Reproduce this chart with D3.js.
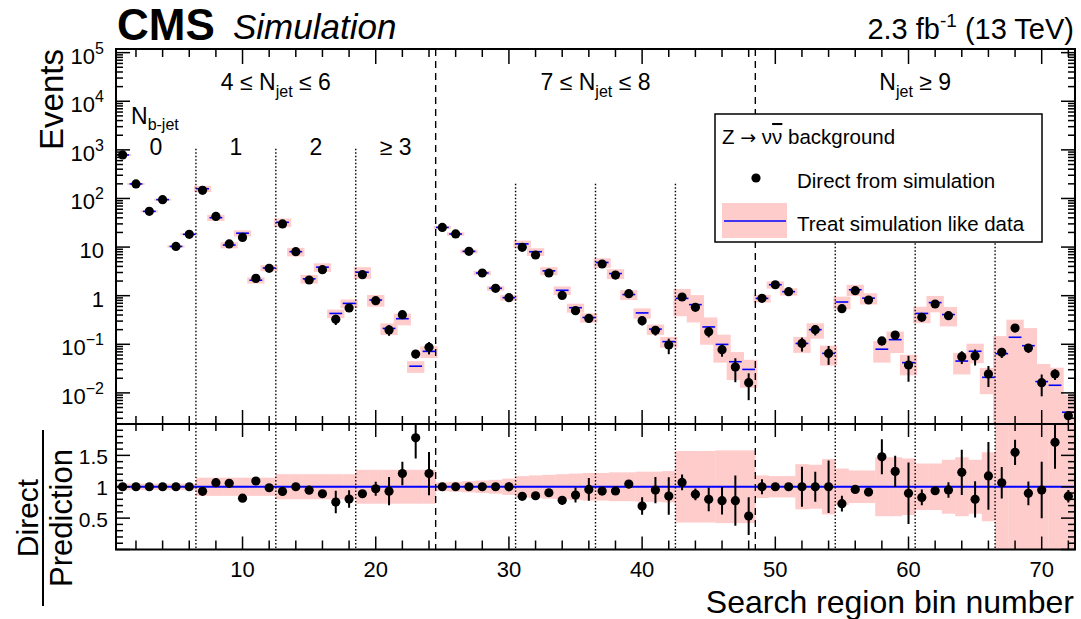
<!DOCTYPE html>
<html><head><meta charset="utf-8">
<script src="https://cdn.jsdelivr.net/npm/d3@7"></script>
<style>body{margin:0;background:#fff} text{font-family:"Liberation Sans",Arial,Helvetica,sans-serif;fill:#000}</style>
</head><body><svg id="c" width="1081" height="619"></svg>
<script>
// ---------------- data ----------------
const bins = d3.range(1, 73);
const direct = [785,199,54.3,94.5,10.3,18.3, 147,42.8,11.6,15.8,2.27,3.65, 29.9,8.04,2.1,3.43,0.326,0.558, 2.7,0.789,0.197,0.407,0.063,0.0865,
  25.4,18.6,8.16,2.93,1.42,0.91, 9.86,6.87,2.93,1.01,0.491,0.341, 4.49,2.66,1.1,0.306,0.194,0.0966, 0.94,0.575,0.182,0.0774,0.0341,0.0162,
  0.881,1.68,1.21,0.104,0.2,0.065, 0.541,1.27,0.815,0.117,0.155,0.0375, 0.358,0.675,0.388,0.0556,0.0574,0.0245, 0.0682,0.216,0.0838,0.0162,0.0245,0.0034];
const pred = [785,199,54.3,94.5,10.3,18.3, 158.6,40.2,11.0,19.3,2.08,3.71, 32.3,8.04,2.22,3.86,0.431,0.694, 3.04,0.815,0.212,0.336,0.0354,0.0715,
  25.4,18.6,8.16,2.93,1.42,0.91, 11.64,8.02,3.24,1.29,0.566,0.356, 4.82,2.85,1.055,0.442,0.205,0.1134, 0.879,0.654,0.2275,0.0995,0.0438,0.0304,
  0.881,1.68,1.21,0.104,0.2,0.065, 0.741,1.326,0.89,0.0792,0.1245,0.0419, 0.431,0.721,0.409,0.0452,0.0718,0.0209, 0.0641,0.1395,0.0936,0.0171,0.01435,0.0040];
const ratioErr = [0.01,0.01,0.01,0.01,0.01,0.01, 0.03,0.03,0.03,0.03,0.04,0.03, 0.03,0.03,0.04,0.04,0.178,0.14, 0.05,0.11,0.225,0.186,0.33,0.345,
  0.02,0.02,0.02,0.03,0.05,0.07, 0.03,0.03,0.04,0.066,0.12,0.18, 0.03,0.04,0.066,0.14,0.21,0.3, 0.125,0.093,0.19,0.22,0.4,0.3,
  0.12,0.05,0.06,0.32,0.24,0.42, 0.125,0.05,0.06,0.28,0.25,0.49, 0.125,0.06,0.125,0.36,0.29,0.54, 0.25,0.2,0.19,0.45,0.42,0.1];
const predRelErr = [0.05,0.05,0.05,0.05,0.05,0.05, 0.145,0.145,0.145,0.145,0.145,0.145, 0.2,0.2,0.2,0.2,0.2,0.2, 0.27,0.27,0.27,0.27,0.27,0.27,
  0.07,0.08,0.09,0.10,0.11,0.13, 0.17,0.18,0.19,0.20,0.21,0.22, 0.22,0.23,0.23,0.24,0.24,0.25, 0.57,0.57,0.57,0.58,0.58,0.58,
  0.18,0.17,0.17,0.36,0.35,0.44, 0.29,0.26,0.26,0.47,0.47,0.45, 0.37,0.37,0.43,0.47,0.43,0.55, 1.3,1.3,1.3,1.3,1.3,1.3];
const ratio = direct.map((d,i)=>d/pred[i]);
const njetGroups = [{lo:0.5,hi:24.5,label:["4 ≤ N","jet"," ≤ 6"]},{lo:24.5,hi:48.5,label:["7 ≤ N","jet"," ≤ 8"]},{lo:48.5,hi:72.5,label:["N","jet"," ≥ 9"]}];
const nbLabels = [{c:3.5,t:"0"},{c:9.5,t:"1"},{c:15.5,t:"2"},{c:21.5,t:"≥ 3"}];
const dottedSeps = [6.5,12.5,18.5,30.5,36.5,42.5,54.5,60.5,66.5];
const dottedTop = [1050,1050,1050,200,200,200,200,200,200];
const dashedSeps = [24.5,48.5];
const xTickLabels = [10,20,30,40,50,60,70];
const yTopDecades = [-2,-1,0,1,2,3,4,5];
const yRatioLabels = [0.5,1,1.5];

// ---------------- layout ----------------
const L=116,R=1075,T=49,M=424,B=549.5;
const svg = d3.select('#c');
const x = d3.scaleLinear().domain([0.5,72.5]).range([L,R]);
const yT = d3.scaleLog().domain([Math.pow(10,-2.64),Math.pow(10,5.075)]).range([M,T]);
const yR = d3.scaleLinear().domain([0,2]).range([B,M]);
const PINK='#ffcccc', BLUE='#0000ff';

const defs = svg.append('defs');
defs.append('clipPath').attr('id','cT').append('rect').attr('x',L).attr('y',T).attr('width',R-L).attr('height',M-T);
defs.append('clipPath').attr('id','cB').append('rect').attr('x',L).attr('y',M).attr('width',R-L).attr('height',B-M);

// ---------- upper panel ----------
const gT = svg.append('g').attr('clip-path','url(#cT)');
gT.selectAll('rect.box').data(bins).join('rect')
  .attr('x',d=>x(d-0.65)).attr('width',x(1.3)-x(0))
  .attr('y',(d,i)=>yT(pred[i]*(1+predRelErr[i])))
  .attr('height',(d,i)=>{const lo=pred[i]*(1-predRelErr[i]);const yb=lo>0?yT(lo):M+10;return yb-yT(pred[i]*(1+predRelErr[i]));})
  .attr('fill',PINK);
gT.selectAll('line.pred').data(bins).join('line')
  .attr('x1',d=>x(d-0.48)).attr('x2',d=>x(d+0.48))
  .attr('y1',(d,i)=>yT(pred[i])).attr('y2',(d,i)=>yT(pred[i]))
  .attr('stroke',BLUE).attr('stroke-width',1.6);
gT.selectAll('line.dot').data(dottedSeps).join('line')
  .attr('x1',d=>x(d)).attr('x2',d=>x(d)).attr('y1',(d,i)=>yT(dottedTop[i])).attr('y2',M)
  .attr('stroke','#000').attr('stroke-width',1.4).attr('stroke-dasharray','1.5,2');
gT.selectAll('line.dash').data(dashedSeps).join('line')
  .attr('x1',d=>x(d)).attr('x2',d=>x(d)).attr('y1',T).attr('y2',M)
  .attr('stroke','#000').attr('stroke-width',1.4).attr('stroke-dasharray','7,5');
gT.selectAll('line.err').data(bins).join('line')
  .attr('x1',d=>x(d)).attr('x2',d=>x(d))
  .attr('y1',(d,i)=>yT(direct[i]+ratioErr[i]*pred[i]))
  .attr('y2',(d,i)=>{const lo=direct[i]-ratioErr[i]*pred[i];return lo>0?yT(lo):M+10;})
  .attr('stroke','#000').attr('stroke-width',2);
gT.selectAll('circle').data(bins).join('circle')
  .attr('cx',d=>x(d)).attr('cy',(d,i)=>yT(direct[i])).attr('r',4.6).attr('fill','#000');

// ---------- lower panel ----------
const gB = svg.append('g').attr('clip-path','url(#cB)');
gB.selectAll('rect').data(bins).join('rect')
  .attr('x',d=>x(d-0.5)).attr('width',x(1)-x(0)+0.3)
  .attr('y',(d,i)=>yR(1+predRelErr[i]))
  .attr('height',(d,i)=>yR(Math.max(-0.1,1-predRelErr[i]))-yR(1+predRelErr[i]))
  .attr('fill',PINK);
gB.append('line').attr('x1',L).attr('x2',R).attr('y1',yR(1)).attr('y2',yR(1)).attr('stroke',BLUE).attr('stroke-width',2);
gB.selectAll('line.dot').data(dottedSeps).join('line')
  .attr('x1',d=>x(d)).attr('x2',d=>x(d)).attr('y1',M).attr('y2',B)
  .attr('stroke','#000').attr('stroke-width',1.4).attr('stroke-dasharray','1.5,2');
gB.selectAll('line.dash').data(dashedSeps).join('line')
  .attr('x1',d=>x(d)).attr('x2',d=>x(d)).attr('y1',M).attr('y2',B)
  .attr('stroke','#000').attr('stroke-width',1.4).attr('stroke-dasharray','7,5');
gB.selectAll('line.err').data(bins).join('line')
  .attr('x1',d=>x(d)).attr('x2',d=>x(d))
  .attr('y1',(d,i)=>yR(ratio[i]+ratioErr[i])).attr('y2',(d,i)=>yR(ratio[i]-ratioErr[i]))
  .attr('stroke','#000').attr('stroke-width',2);
gB.selectAll('circle').data(bins).join('circle')
  .attr('cx',d=>x(d)).attr('cy',(d,i)=>yR(ratio[i])).attr('r',4.6).attr('fill','#000');

// ---------- legend ----------
const lg = svg.append('g');
lg.append('rect').attr('x',715).attr('y',114).attr('width',327).attr('height',128).attr('fill','#fff').attr('stroke','#000').attr('stroke-width',1.5);
const h = lg.append('text').attr('x',722).attr('y',144).attr('font-size',20.5);
h.append('tspan').text('Z ');
h.append('tspan').style('font-family','"DejaVu Sans"').attr('font-size',19).text('→');
h.append('tspan').text(' ν');
h.append('tspan').style('text-decoration','overline').text('ν');
h.append('tspan').text(' background');
lg.append('circle').attr('cx',756).attr('cy',178).attr('r',4.6).attr('fill','#000');
lg.append('text').attr('x',797).attr('y',188).attr('font-size',20.5).text('Direct from simulation');
lg.append('rect').attr('x',722).attr('y',203).attr('width',65).attr('height',35).attr('fill',PINK);
lg.append('line').attr('x1',724).attr('x2',786).attr('y1',221).attr('y2',221).attr('stroke',BLUE).attr('stroke-width',1.6);
lg.append('text').attr('x',797).attr('y',231).attr('font-size',20.5).text('Treat simulation like data');

// ---------- region labels ----------
njetGroups.forEach(g=>{
  const t = svg.append('text').attr('x',x((g.lo+g.hi)/2)).attr('y',90).attr('font-size',23).attr('text-anchor','middle');
  t.append('tspan').text(g.label[0]);
  t.append('tspan').attr('font-size',16).attr('dy',6.5).text(g.label[1]);
  t.append('tspan').attr('dy',-6.5).text(g.label[2]);
});
const nb = svg.append('text').attr('x',131).attr('y',123.5).attr('font-size',23);
nb.append('tspan').text('N');
nb.append('tspan').attr('font-size',16).attr('dy',6.5).text('b-jet');
svg.selectAll('text.nb').data(nbLabels).join('text')
  .attr('x',d=>x(d.c)).attr('y',155).attr('font-size',23).attr('text-anchor','middle').text(d=>d.t);

// ---------- frames & ticks ----------
const ax = svg.append('g').attr('stroke','#000');
function tick(x1,y1,x2,y2,w){ax.append('line').attr('x1',x1).attr('y1',y1).attr('x2',x2).attr('y2',y2).attr('stroke-width',w||1.5);}
const xTicks = d3.range(2,73,2);
xTicks.forEach(v=>{
  const maj = v%10===0, px=x(v);
  tick(px,T,px,T+(maj?15:8));
  tick(px,M,px,M-(maj?14:8));
  tick(px,M,px,M+(maj?13:7));
  tick(px,B,px,B-(maj?13:9));
});
yTopDecades.forEach(k=>{
  const py=yT(Math.pow(10,k));
  tick(L,py,L+14,py); tick(R,py,R-14,py);
});
for(let k=-3;k<=5;k++){for(let m=2;m<=9;m++){const v=m*Math.pow(10,k);
  if(v>yT.domain()[0]&&v<yT.domain()[1]){const py=yT(v);tick(L,py,L+7,py);tick(R,py,R-7,py);}}}
d3.range(0,21).forEach(j=>{
  const v=j/10, py=yR(v), maj=(j%5===0);
  tick(L,py,L+(maj?14:7),py); tick(R,py,R-(maj?14:7),py);
});
svg.append('rect').attr('x',L).attr('y',T).attr('width',R-L).attr('height',M-T).attr('fill','none').attr('stroke','#000').attr('stroke-width',2);
svg.append('rect').attr('x',L).attr('y',M).attr('width',R-L).attr('height',B-M).attr('fill','none').attr('stroke','#000').attr('stroke-width',2);

// ---------- tick labels ----------
yTopDecades.forEach(k=>{
  const py=yT(Math.pow(10,k));
  const t=svg.append('text').attr('x',104).attr('y',py+11).attr('font-size',22).attr('text-anchor','end');
  if(k===0) t.text('1'); else if(k===1) t.text('10');
  else { t.append('tspan').text('10'); t.append('tspan').attr('font-size',16).attr('dy',-10).text(k<0?('−'+(-k)):String(k)); }
});
svg.selectAll('text.yr').data(yRatioLabels).join('text')
  .attr('x',108).attr('y',d=>yR(d)+8.5).attr('font-size',21).attr('text-anchor','end').text(d=>String(d));
svg.selectAll('text.xl').data(xTickLabels).join('text')
  .attr('x',d=>x(d)).attr('y',577).attr('font-size',22).attr('text-anchor','middle').text(d=>d);
svg.append('text').attr('x',1074).attr('y',613).attr('font-size',32).attr('text-anchor','end').text('Search region bin number');
svg.append('text').attr('transform','translate(63,49) rotate(-90)').attr('font-size',33).attr('text-anchor','end').text('Events');
const fr = svg.append('g').attr('transform','translate(43,518) rotate(-90)');
fr.append('text').attr('x',0).attr('y',-5).attr('font-size',30).attr('text-anchor','middle').text('Direct');
fr.append('text').attr('x',0).attr('y',29).attr('font-size',31).attr('text-anchor','middle').text('Prediction');
fr.append('line').attr('x1',-88).attr('x2',88).attr('y1',0).attr('y2',0).attr('stroke','#000').attr('stroke-width',2);

// ---------- header ----------
svg.append('text').attr('x',117).attr('y',40).attr('font-size',44).attr('font-weight','bold').text('CMS');
svg.append('text').attr('x',233).attr('y',39).attr('font-size',35).attr('font-style','italic').text('Simulation');
const lu = svg.append('text').attr('x',1074).attr('y',39).attr('font-size',29).attr('text-anchor','end');
lu.append('tspan').text('2.3 fb');
lu.append('tspan').attr('font-size',19).attr('dy',-12).text('-1');
lu.append('tspan').attr('dy',12).text(' (13 TeV)');
</script></body></html>
